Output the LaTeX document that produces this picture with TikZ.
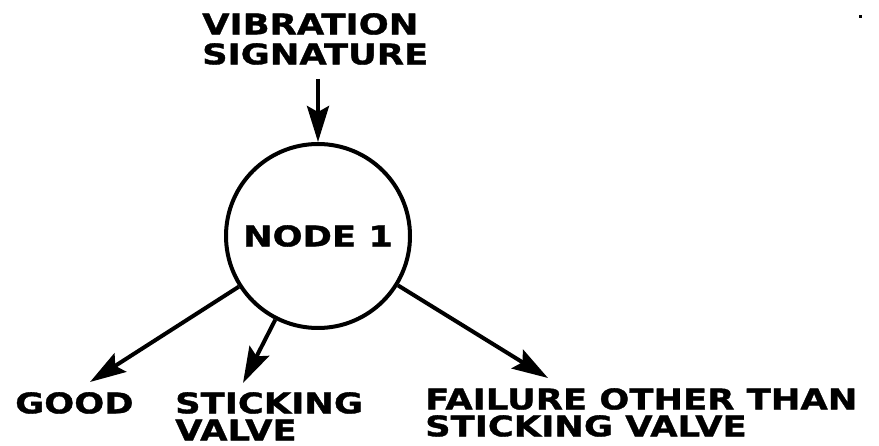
\documentclass[tikz,border=0pt]{standalone}
\usepackage{fontspec}
\usetikzlibrary{arrows.meta}
\newfontfamily\lettering{DejaVu Sans}[FakeStretch=1.24,FakeBold=1.2]

\begin{document}
\begin{tikzpicture}[x=1pt,y=-1pt,
  every node/.style={inner sep=0pt, font=\lettering\bfseries\fontsize{28.5}{27}\selectfont},
  label text/.style={align=left, anchor=north west},
  decision/.style={draw, circle, line width=4pt, minimum size=184pt},
  arr/.style={line width=4pt, -{Stealth[length=36pt,width=22pt,inset=6pt]}}]
\useasboundingbox (0,0) rectangle (879,446);
\node[label text, font=\lettering\bfseries\fontsize{28.5}{30}\selectfont] (sig) at (202,13) {VIBRATION\\SIGNATURE};
\node[decision] (node1) at (318,236) {NODE 1};
\node[label text] (good) at (15,392) {GOOD};
\node[label text] (stick) at (175,392) {STICKING\\VALVE};
\node[label text] (fail) at (425,388) {FAILURE OTHER THAN\\STICKING VALVE};
\coordinate (goodtip) at (90,382);
\coordinate (sticktip) at (243,383);
\coordinate (failtip) at (548,378);
\draw[arr] ([yshift=-14pt]sig.south -| node1.north) -- (node1.north);
\draw[arr] (node1) -- (goodtip);
\draw[arr] (node1) -- (sticktip);
\draw[arr] (node1) -- (failtip);
\fill (858.5,15.5) rectangle (861.5,18.5);
\end{tikzpicture}
\end{document}
